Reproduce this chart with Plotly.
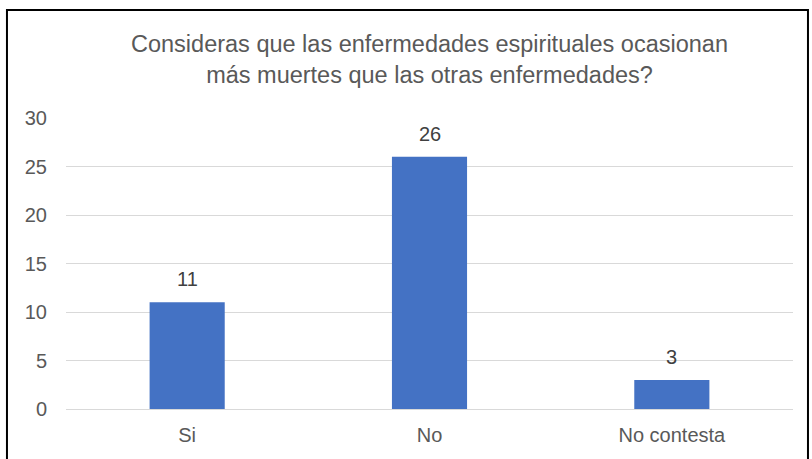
import plotly.graph_objects as go

categories = ["Si", "No", "No contesta"]
values = [11, 26, 3]
y_ticks = [0, 5, 10, 15, 20, 25, 30]

FONT = "Arial"

fig = go.Figure()
fig.add_trace(go.Bar(
    x=categories, y=values,
    marker=dict(color="#4472C4", line=dict(width=0)),
    hoverinfo="skip",
))
for c, v in zip(categories, values):
    fig.add_annotation(x=c, y=v, text=str(v), showarrow=False, yanchor="bottom",
                       yshift=10, font=dict(family=FONT, size=20, color="#404040"))

fig.add_shape(type="rect", xref="paper", yref="paper",
              x0=-0.0812, x1=1.0206, y0=-0.2, y1=1.371,
              line=dict(color="black", width=2), fillcolor="rgba(0,0,0,0)")

fig.update_layout(
    width=812, height=459,
    margin=dict(l=66, r=19, t=118, b=50),
    paper_bgcolor="white", plot_bgcolor="white",
    bargap=0.69,
    showlegend=False,
    font=dict(family=FONT, color="#595959"),
    title=dict(
        text="Consideras que las enfermedades espirituales ocasionan<br>más muertes que las otras enfermedades?",
        x=0.5, xref="paper", xanchor="center",
        y=1 - 52 / 459, yref="container", yanchor="middle",
        font=dict(family=FONT, size=23.5, color="#595959"),
    ),
    xaxis=dict(showgrid=False, showline=False, ticks="", zeroline=False,
               tickfont=dict(family=FONT, size=20, color="#595959"), ticklabelstandoff=12),
    yaxis=dict(range=[0, 30], tickvals=y_ticks, showgrid=True, gridcolor="#D9D9D9",
               gridwidth=1, zeroline=True, zerolinecolor="#D9D9D9", zerolinewidth=1,
               showline=False, ticks="", tickfont=dict(family=FONT, size=20, color="#595959"),
               ticklabelstandoff=18),
)

fig.write_html("out.html", config={"displayModeBar": False},
               post_script="document.body.style.margin='0';")
